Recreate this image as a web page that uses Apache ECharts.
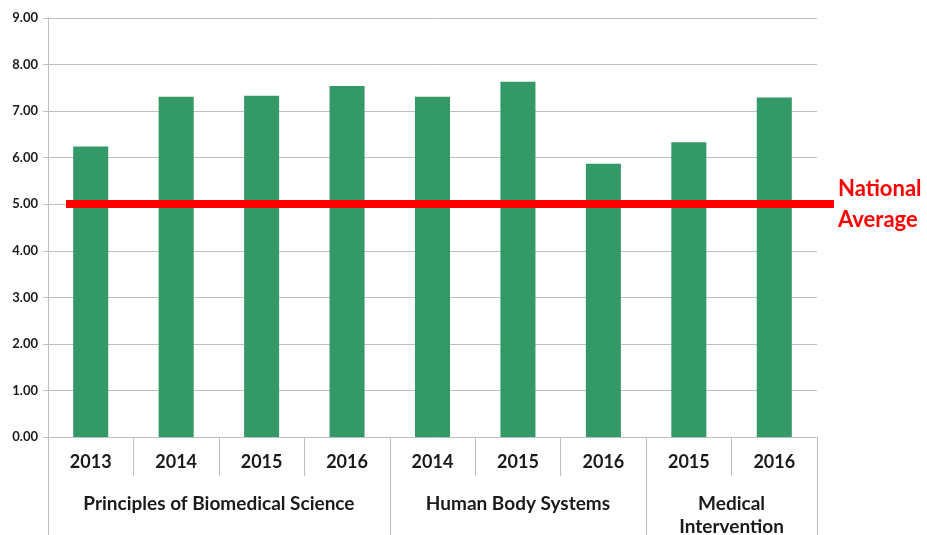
<!DOCTYPE html>
<html>
<head>
<meta charset="utf-8">
<script src="https://cdn.jsdelivr.net/npm/echarts@6/dist/echarts.min.js"></script>
<style>
  html, body { margin: 0; padding: 0; background: #fff; }
  #chart { width: 927px; height: 535px; }
</style>
</head>
<body>
<div id="chart"></div>
<script>
// data
const years = ['2013', '2014', '2015', '2016', '2014', '2015', '2016', '2015', '2016'];
const scores = [6.24, 7.31, 7.33, 7.54, 7.31, 7.63, 5.87, 6.33, 7.29];
const groups = ['Principles of Biomedical Science', 'Human Body Systems', 'Medical\nIntervention'];
const groupSizes = [4, 3, 2];
const nationalAverage = 5;

// group boundaries and centres on a 0..9 scale
const groupEdges = [0];
groupSizes.forEach((n) => groupEdges.push(groupEdges[groupEdges.length - 1] + n));
const groupCenters = groups.map((g, i) => (groupEdges[i] + groupEdges[i + 1]) / 2);

const font = 'Lato, "Open Sans", sans-serif';
const grey = '#bfbfbf';

const myChart = echarts.init(document.getElementById('chart'));
myChart.setOption({
  animation: false,
  grid: { left: 48, right: 110, top: 18, bottom: 98, outerBoundsMode: 'none', containLabel: false },
  xAxis: [
    {
      type: 'category',
      data: years,
      position: 'bottom',
      axisLine: { lineStyle: { color: grey, width: 1 } },
      axisTick: { show: true, interval: 0, length: 39, lineStyle: { color: grey } },
      axisLabel: {
        interval: 0,
        margin: 16,
        fontFamily: font,
        fontWeight: 'bold',
        fontSize: 18,
        color: '#1a1a1a',
      },
    },
    {
      type: 'value',
      min: 0,
      max: 9,
      position: 'bottom',
      offset: 39,
      splitLine: { show: false },
      axisLine: { show: false },
      axisTick: {
        show: true,
        customValues: groupEdges,
        length: 60,
        lineStyle: { color: grey },
      },
      axisLabel: {
        customValues: groupCenters,
        margin: 16,
        formatter: (v) => {
          const i = groupCenters.indexOf(v);
          return i >= 0 ? groups[i] : '';
        },
        fontFamily: font,
        fontWeight: 'bold',
        fontSize: 19,
        lineHeight: 23,
        color: '#1a1a1a',
      },
    },
  ],
  yAxis: {
    type: 'value',
    min: 0,
    max: 9,
    interval: 1,
    axisLine: { show: true, lineStyle: { color: grey } },
    axisTick: { show: true, length: 5, lineStyle: { color: grey } },
    splitLine: { lineStyle: { color: grey, width: 1 } },
    axisLabel: {
      margin: 10,
      formatter: (v) => v.toFixed(2),
      fontFamily: font,
      fontWeight: 'bold',
      fontSize: 13,
      color: '#1a1a1a',
    },
  },
  series: [
    {
      type: 'bar',
      xAxisIndex: 0,
      data: scores,
      barWidth: '41%',
      clip: false,
      itemStyle: { color: '#339966' },
      markLine: {
        silent: true,
        symbol: 'none',
        lineStyle: { color: '#ff0000', width: 8, type: 'solid' },
        label: {
          show: true,
          position: 'end',
          distance: 4,
          formatter: 'National\nAverage',
          color: '#ff0000',
          fontFamily: font,
          fontWeight: 'bold',
          fontSize: 22,
          lineHeight: 31,
          align: 'left',
        },
        data: [[{ x: 66, yAxis: nationalAverage }, { x: 834, yAxis: nationalAverage }]],
      },
    },
  ],
});
</script>
</body>
</html>
